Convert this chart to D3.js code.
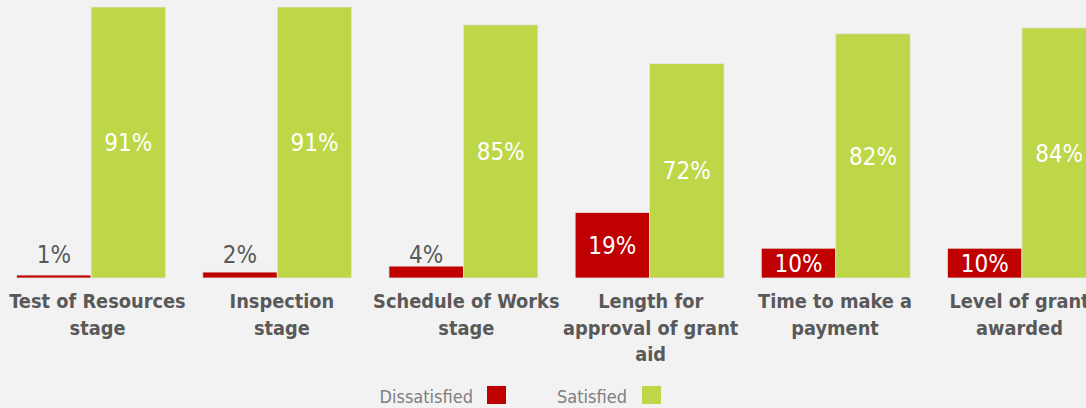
<!DOCTYPE html>
<html>
<head>
<meta charset="utf-8">
<script src="https://cdn.jsdelivr.net/npm/d3@7"></script>
<style>
  body { margin: 0; background: #f2f2f2; }
  svg { display: block; font-family: "DejaVu Sans Condensed", "DejaVu Sans", sans-serif; font-stretch: condensed; }
</style>
</head>
<body>
<svg class="chart"></svg>
<script>
const width = 1086;
const height = 408;

// categories (lines of each axis label)
const categories = [
  ["Test of Resources", "stage"],
  ["Inspection", "stage"],
  ["Schedule of Works", "stage"],
  ["Length for", "approval of grant", "aid"],
  ["Time to make a", "payment"],
  ["Level of grant", "awarded"]
];
const series = ["Dissatisfied", "Satisfied"];
// bar heights as drawn (19% bar is drawn taller than its label)
const dissatisfied = [1, 2, 4, 22, 10, 10];
const dissatisfiedLabels = ["1%", "2%", "4%", "19%", "10%", "10%"];
const satisfied = [91, 91, 85, 72, 82, 84];
const satisfiedLabels = ["91%", "91%", "85%", "72%", "82%", "84%"];

const colors = { Dissatisfied: "#c00000", Satisfied: "#bdd748" };

const svg = d3.select(".chart").attr("width", width).attr("height", height);

const keys = categories.map((c, i) => i);
const x0 = d3.scaleBand().domain(keys).range([-2, 1115]).padding(0);
const x1 = d3.scaleBand().domain(series).range([0, x0.bandwidth()]).paddingInner(0).paddingOuter(0.25);
// category labels sit on a slightly tighter spacing than the bars
const xl = d3.scaleBand().domain(keys).range([5.3, 1111.7]).padding(0);
const y = d3.scaleLinear().domain([0, 100]).range([278, -19.8]);

const rows = keys.map(i => [
  { key: "Dissatisfied", i: i, v: dissatisfied[i], label: dissatisfiedLabels[i] },
  { key: "Satisfied", i: i, v: satisfied[i], label: satisfiedLabels[i] }
]);

const groups = svg.append("g").selectAll("g")
  .data(rows).enter().append("g")
  .attr("transform", (d, i) => `translate(${x0(i)},0)`);

groups.selectAll("rect")
  .data(d => d).enter().append("rect")
  .attr("x", d => x1(d.key))
  .attr("y", d => y(d.v))
  .attr("width", x1.bandwidth())
  .attr("height", d => y(0) - y(d.v))
  .attr("fill", d => colors[d.key])
  .attr("stroke", "#e6e6e6")
  .attr("stroke-width", 0.8);

// value labels: inside (white) when bar is tall enough, otherwise above (gray)
groups.selectAll("text.val")
  .data(d => d).enter().append("text").classed("val", true)
  .attr("x", d => x1(d.key) + x1.bandwidth() / 2)
  .attr("y", d => {
    const h = y(0) - y(d.v);
    return h >= 26 ? (y(d.v) + y(0)) / 2 : y(0) - 24;
  })
  .attr("dy", "0.36em")
  .attr("text-anchor", "middle")
  .attr("font-size", 24)
  .attr("fill", d => (y(0) - y(d.v) >= 26) ? "#ffffff" : "#595959")
  .text(d => d.label);

// category labels
const axis = svg.append("g");
categories.forEach((lines, i) => {
  const cx = xl(i) + xl.bandwidth() / 2;
  const t = axis.append("text")
    .attr("x", cx)
    .attr("y", 308)
    .attr("text-anchor", "middle")
    .attr("font-size", 19.8)
    .attr("font-weight", "bold")
    .attr("fill", "#595959");
  lines.forEach((ln, j) => {
    t.append("tspan")
      .attr("x", cx)
      .attr("y", 308 + j * 26.5)
      .text(ln);
  });
});

// legend
const legend = svg.append("g");
const legendItems = [
  { key: "Dissatisfied", tx: 473, sx: 487 },
  { key: "Satisfied", tx: 627, sx: 642 }
];
legend.selectAll("text").data(legendItems).enter().append("text")
  .attr("x", d => d.tx)
  .attr("y", 403)
  .attr("text-anchor", "end")
  .attr("font-size", 18)
  .attr("fill", "#7f7f7f")
  .text(d => d.key);
legend.selectAll("rect").data(legendItems).enter().append("rect")
  .attr("x", d => d.sx)
  .attr("y", 386)
  .attr("width", 19)
  .attr("height", 18)
  .attr("fill", d => colors[d.key]);
</script>
</body>
</html>
